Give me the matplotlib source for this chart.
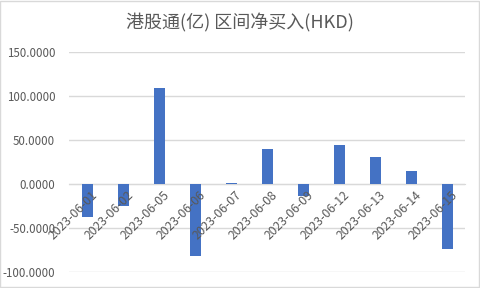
import matplotlib
matplotlib.use('Agg')
import matplotlib.pyplot as plt
from matplotlib.patches import Rectangle

plt.rcParams['font.family'] = ['Noto Sans CJK SC', 'DejaVu Sans']
plt.rcParams['axes.unicode_minus'] = False

# 数据
dates = ['2023-06-01', '2023-06-02', '2023-06-05', '2023-06-06', '2023-06-07', '2023-06-08',
         '2023-06-09', '2023-06-12', '2023-06-13', '2023-06-14', '2023-06-15']
net_buy = [-37.0, -25.0, 108.7, -81.4, 1.5, 39.8, -13.6, 44.3, 30.7, 14.8, -73.5]
yticks = [-100, -50, 0, 50, 100, 150]

text_color = '#595959'
grid_color = '#d9d9d9'

fig = plt.figure(figsize=(4.8, 2.88), dpi=100)
ax = fig.add_axes([0.144, 0.0556, 0.825, 0.7634])

x = list(range(len(dates)))
ax.bar(x, net_buy, width=0.31, color='#4472C4', zorder=2)

ax.set_xlim(-0.5, len(dates) - 0.5)
ax.set_ylim(-100, 150)
ax.set_yticks(yticks)
ax.set_yticklabels([f'{v:.4f}' for v in yticks], color=text_color, fontsize=8.3)
ax.yaxis.grid(True, color=grid_color, linewidth=1)
ax.yaxis.set_zorder(1)
ax.tick_params(axis='y', length=0, pad=10)

# x轴放在0的位置
ax.spines['bottom'].set_position(('data', 0))
ax.spines['bottom'].set_color(grid_color)
ax.spines['bottom'].set_zorder(1)
for s in ['top', 'right', 'left']:
    ax.spines[s].set_visible(False)
ax.set_xticks([])

# 日期标签 (画在柱子上面)
for i, d in enumerate(dates):
    ax.annotate(d, xy=(i, 0), xytext=(4, -4), textcoords='offset pixels',
                rotation=45, ha='right', va='top', rotation_mode='anchor',
                color=text_color, fontsize=8.8, zorder=5, annotation_clip=False)

fig.text(0.5, 0.922, '港股通(亿) 区间净买入(HKD)', ha='center', va='center',
         fontsize=13, color=text_color)

# 图表边框
fig.patches.append(Rectangle((0.001, 0.002), 0.997, 0.995, transform=fig.transFigure,
                             fill=False, edgecolor=grid_color, linewidth=1))

fig.savefig('out.png', dpi=100)
